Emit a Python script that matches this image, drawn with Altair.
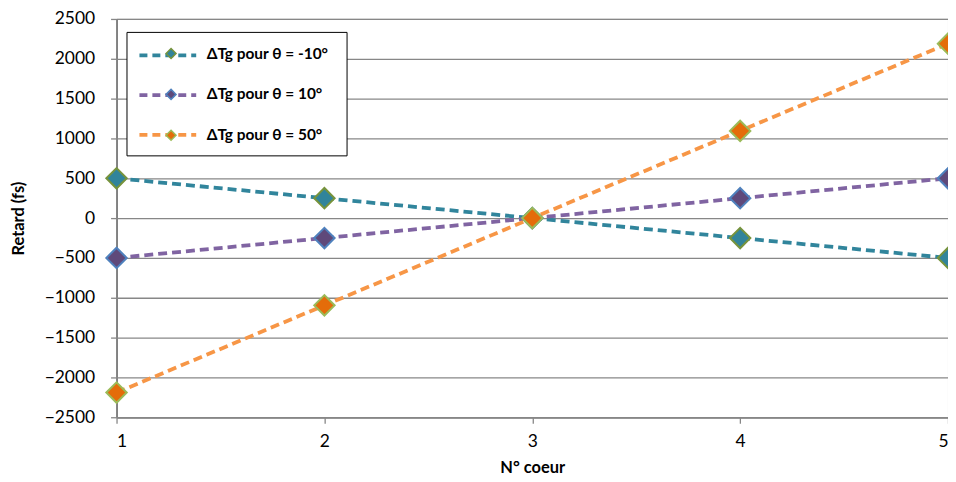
import altair as alt
import pandas as pd

coeur = [1, 2, 3, 4, 5]
serie_names = ["ΔTg pour θ = -10°", "ΔTg pour θ = 10°", "ΔTg pour θ = 50°"]
retard_m10 = [500, 250, 0, -250, -500]
retard_10 = [-500, -250, 0, 250, 500]
retard_50 = [-2190, -1095, 0, 1095, 2190]
y_ticks = [-2500, -2000, -1500, -1000, -500, 0, 500, 1000, 1500, 2000, 2500]

line_colors = ["#31859C", "#8064A2", "#F79646"]
marker_fill = ["#31849B", "#5F497A", "#E46C0A"]
marker_stroke = ["#77933C", "#4F81BD", "#9BBB59"]

rows = []
for name, vals in zip(serie_names, [retard_m10, retard_10, retard_50]):
    for c, v in zip(coeur, vals):
        rows.append({"coeur": c, "retard": v, "serie": name, "marqueur": name})
df = pd.DataFrame(rows)

FONT = "Lato"
GRID = "#878787"

x = alt.X(
    "coeur:Q",
    title="N° coeur",
    scale=alt.Scale(domain=[1, 5], nice=False, zero=False),
    axis=alt.Axis(values=coeur, format="d", grid=False, tickSize=6,
                  labelPadding=9, titlePadding=10),
)
y = alt.Y(
    "retard:Q",
    title="Retard (fs)",
    scale=alt.Scale(domain=[-2500, 2500], nice=False),
    axis=alt.Axis(values=y_ticks, format="d", grid=True, tickSize=6, labelPadding=16,
                  titlePadding=18),
)

line_legend = alt.Legend(
    orient="none", legendX=10, legendY=13, title=None,
    symbolType="M-3,0H3", symbolSize=361, symbolStrokeWidth=3.8,
    symbolDash=[8, 5], padding=12, rowPadding=20,
    symbolOffset=18, labelOffset=156, labelExpr="''",
    labelFont=FONT, labelFontSize=13, labelFontWeight="bold",
    labelLimit=300,
    strokeColor="black", fillColor="white", zindex=1,
)

pt_legend = alt.Legend(
    orient="none", legendX=10, legendY=13, title=None,
    symbolType="diamond", symbolSize=100, symbolStrokeWidth=1.5,
    padding=14, rowPadding=23, symbolOffset=23, labelOffset=28,
    labelFont=FONT, labelFontSize=15.5, labelFontWeight="bold",
    labelColor="black", labelLimit=300, symbolOpacity=1, zindex=2,
)

lines = alt.Chart(df).mark_line(strokeWidth=3.8, strokeDash=[9, 5]).encode(
    x=x, y=y,
    color=alt.Color("serie:N", scale=alt.Scale(domain=serie_names, range=line_colors),
                    legend=line_legend),
    order="coeur:Q",
)

points = alt.Chart(df).mark_point(shape="diamond", filled=True, size=420,
                                  strokeWidth=2, opacity=1).encode(
    x=x, y=y,
    fill=alt.Fill("marqueur:N", scale=alt.Scale(range=marker_fill),
                  legend=pt_legend),
    stroke=alt.Stroke("marqueur:N", scale=alt.Scale(range=marker_stroke),
                      legend=pt_legend),
)

chart = alt.layer(lines, points).properties(
    width=835, height=400,
    background="white",
    autosize=alt.AutoSizeParams(type="none"),
    padding={"left": 109, "top": 10, "right": 0, "bottom": 60},
).configure_view(
    stroke="black", strokeWidth=1
).configure_axis(
    domainColor=GRID, domainWidth=1.3, tickColor=GRID, tickWidth=1.3,
    gridColor=GRID, gridWidth=1.3,
    labelFont=FONT, labelFontSize=17.5, labelColor="black",
    titleFont=FONT, titleFontSize=16.5, titleFontWeight="bold", titleColor="black",
)

chart.save("out.html", embed_options={"renderer": "svg", "actions": False})
